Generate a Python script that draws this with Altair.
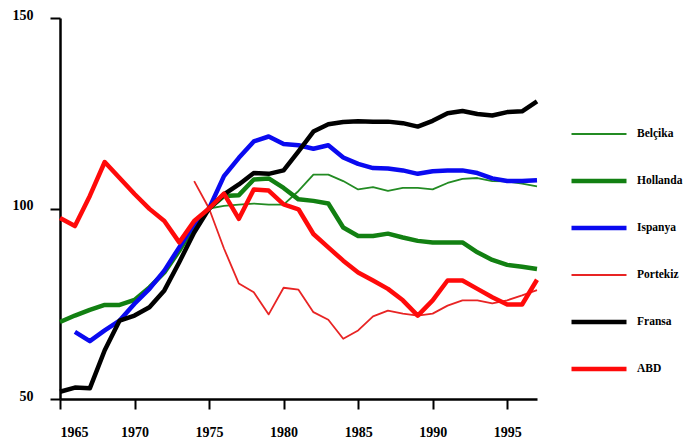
import altair as alt
import pandas as pd

years = list(range(1965, 1998))
countries = ["Belçika", "Hollanda", "Ispanya", "Portekiz", "Fransa", "ABD"]
colors = ["#238b23", "#128012", "#0a0af0", "#e82424", "#000000", "#ff0a0a"]
widths = [1.8, 4.5, 4.5, 1.8, 4.5, 4.5]

belcika = [None] * 10 + [100, 100.7, 101, 101.3, 101, 101, 104.6, 108.9, 108.9, 107.2,
                         105, 105.6, 104.6, 105.4, 105.4, 105, 106.7, 107.8, 108, 107.2,
                         107.1, 106.5, 105.8]
hollanda = [70.2, 71.9, 73.4, 74.7, 74.7, 76, 79.3, 83.2, 88.9, 95.4,
            100, 103.3, 103.5, 107.6, 107.9, 105.4, 102.4, 102, 101.3, 95,
            92.8, 92.8, 93.4, 92.4, 91.5, 91.1, 91.1, 91.1, 88.5, 86.5,
            85.2, 84.7, 84.1]
ispanya = [None, 67.6, 65.2, 68, 70.6, 75, 78.9, 83.7, 89.8, 95.9,
           100, 108.5, 113.3, 117.6, 118.9, 116.9, 116.6, 115.7, 116.6, 113.4,
           111.7, 110.6, 110.5, 110, 109.1, 109.8, 110, 110, 109.3, 107.9,
           107.2, 107.2, 107.4]
portekiz = [None] * 9 + [107.2,
            100, 89.5, 80.3, 78, 72.2, 79.2, 78.7, 72.8, 70.8, 65.8,
            68, 71.7, 73.2, 72.4, 71.9, 72.4, 74.5, 75.9, 75.9, 75.1,
            75.9, 77.2, 78.6]
fransa = [51.9, 53, 52.8, 62.8, 70.6, 71.9, 74.1, 78.5, 85.9, 93.7,
          100, 103.7, 106.3, 109.3, 109.1, 110, 115, 120.2, 122.1, 122.7,
          122.9, 122.8, 122.8, 122.4, 121.5, 123, 125, 125.6, 124.8, 124.4,
          125.3, 125.5, 128.1]
abd = [97.5, 95.4, 103.3, 112.2, 108, 103.8, 99.9, 96.7, 91.1, 96.7,
       100, 103.9, 97.3, 105, 104.7, 101.1, 99.8, 93.3, 89.8, 86.3,
       83.2, 81.1, 78.9, 75.9, 71.9, 75.9, 81.1, 81.1, 78.9, 76.7,
       74.8, 74.8, 81.3]

series = [belcika, hollanda, ispanya, portekiz, fransa, abd]
rows = []
for name, vals in zip(countries, series):
    for y, v in zip(years, vals):
        if v is not None:
            rows.append({"year": y, "country": name, "value": v})
df = pd.DataFrame(rows)

FONT = "Liberation Serif"

legend = alt.Legend(
    title=None, orient="none", legendX=509, legendY=106,
    symbolType="stroke", symbolSize=3025, clipHeight=20, rowPadding=27,
    labelFont=FONT, labelFontSize=11.5, labelFontWeight="bold", labelColor="black",
    labelOffset=8,
)

chart = alt.Chart(df).mark_line(strokeJoin="round", strokeCap="butt").encode(
    x=alt.X("year:Q", scale=alt.Scale(domain=[1965, 1997], nice=False, zero=False),
            axis=alt.Axis(title=None, values=list(range(1965, 1996, 5)), format="d",
                          labelFontSize=14, labelPadding=16)),
    y=alt.Y("value:Q", scale=alt.Scale(domain=[50, 150], nice=False, zero=False),
            axis=alt.Axis(title=None, values=[50, 100, 150], labelFontSize=14,
                          labelBaseline="alphabetic", labelPadding=17, labelOffset=1)),
    color=alt.Color("country:N", scale=alt.Scale(domain=countries, range=colors), legend=legend),
    strokeWidth=alt.StrokeWidth("country:N",
                                scale=alt.Scale(type="ordinal", domain=countries, range=widths),
                                legend=legend),
    order=alt.Order("year:Q"),
).properties(
    width=477, height=381,
    autosize=alt.AutoSizeParams(type="none"),
    padding={"left": 52, "top": 10, "right": 148, "bottom": 41},
).configure_view(stroke=None).configure_axis(
    grid=False, domainColor="black", domainWidth=2.5, tickColor="black", tickWidth=2,
    tickSize=10, labelFont=FONT, labelFontWeight="bold", labelColor="black",
)

chart.save("out.html", embed_options={"renderer": "svg", "actions": False})
